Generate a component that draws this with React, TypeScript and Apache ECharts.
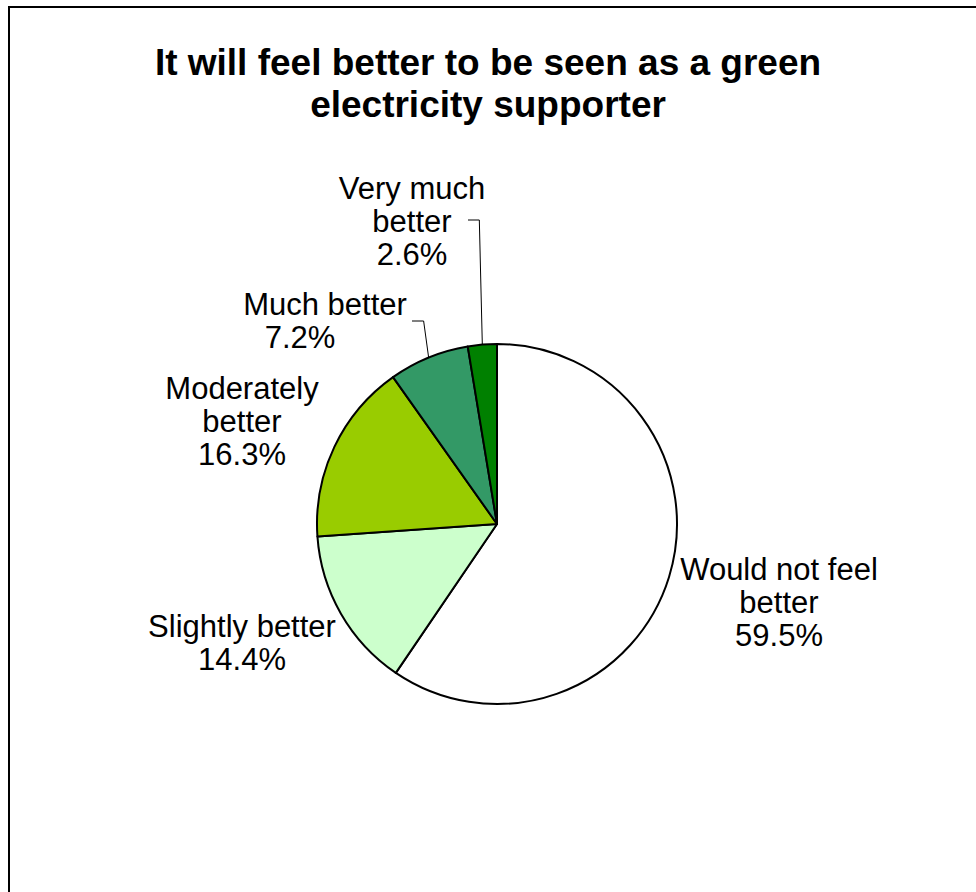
import React, { useEffect, useRef } from "react";
import * as echarts from "echarts";

const titleText = "It will feel better to be seen as a green\nelectricity supporter";
const categories = ["Would not feel better", "Slightly better", "Moderately better", "Much better", "Very much better"];
const shares = [59.5, 14.4, 16.3, 7.2, 2.6];
const labelNames = ["Would not feel\nbetter", "Slightly better", "Moderately\nbetter", "Much better", "Very much\nbetter"];
const colors = ["#FFFFFF", "#CCFFCC", "#99CC00", "#339966", "#008000"];

// label layout (pixel positions of label centres) and leader-line geometry
const labelPos: [number, number][] = [
  [779, 602],
  [242, 643],
  [242, 421],
  [325, 321],
  [412, 221],
];
const pctShift = [0, 0, 0, 50, 0];
const leader: (null | { bendDx: number; endDx: number; dy: number })[] = [
  null,
  null,
  null,
  { bendDx: -5, endDx: 87, dy: 0 },
  { bendDx: -3, endDx: 56, dy: -1 },
];

export default function App() {
  const ref = useRef<HTMLDivElement>(null);
  useEffect(() => {
    if (!ref.current) return;
    const chart = echarts.init(ref.current, undefined, { renderer: "svg" });
    const font = "Liberation Sans, Arial, sans-serif";
    const fs = 31;
    const lh = 33;
    chart.setOption({
      animation: false,
      backgroundColor: "#FFFFFF",
      title: {
        text: titleText,
        left: "center",
        top: 36,
        textStyle: {
          fontFamily: font,
          fontWeight: "bold",
          fontSize: 37,
          lineHeight: 42,
          color: "#000000",
        },
      },
      graphic: [
        {
          type: "rect",
          shape: { x: 9, y: 7, width: 1000, height: 1000 },
          style: { fill: "none", stroke: "#000000", lineWidth: 2 },
          silent: true,
        },
      ],
      series: [
        {
          type: "pie",
          center: [497, 524],
          radius: 180,
          startAngle: 90,
          clockwise: true,
          avoidLabelOverlap: false,
          percentPrecision: 1,
          itemStyle: { borderColor: "#000000", borderWidth: 2 },
          label: {
            show: true,
            position: "outside",
            fontFamily: font,
            fontSize: fs,
            lineHeight: lh,
            color: "#000000",
            align: "center",
            formatter: (p: any) => {
              const i = p.dataIndex;
              const lines = labelNames[i].split("\n").map((s) => `{n|${s}}`);
              const pct = `${Number(p.value).toFixed(1)}%`;
              lines.push(pctShift[i] ? `{q|${pct}}` : `{n|${pct}}`);
              return lines.join("\n");
            },
            rich: {
              n: { fontFamily: font, fontSize: fs, lineHeight: lh, color: "#000", align: "center" },
              q: {
                fontFamily: font,
                fontSize: fs,
                lineHeight: lh,
                color: "#000",
                align: "center",
                padding: [0, 50, 0, 0],
              },
            },
          },
          labelLine: {
            show: true,
            length: 10,
            length2: 10,
            smooth: false,
            lineStyle: { color: "#000000", width: 1 },
          },
          labelLayout: (params: any) => {
            const i = params.dataIndex;
            const [x, y] = labelPos[i];
            const res: any = { x, y, align: "center", verticalAlign: "middle" };
            const l = leader[i];
            if (l && params.labelLinePoints) {
              const edge = params.labelLinePoints[0];
              res.labelLinePoints = [
                [edge[0], edge[1]],
                [edge[0] + l.bendDx, y + l.dy],
                [x + l.endDx, y + l.dy],
              ];
            }
            return res;
          },
          data: categories.map((name, i) => ({
            name,
            value: shares[i],
            itemStyle: { color: colors[i] },
            labelLine: { show: leader[i] !== null },
          })),
        },
      ],
    });
    return () => chart.dispose();
  }, []);
  return (
    <div
      ref={ref}
      style={{ position: "absolute", left: 0, top: 0, width: 976, height: 892 }}
    />
  );
}
